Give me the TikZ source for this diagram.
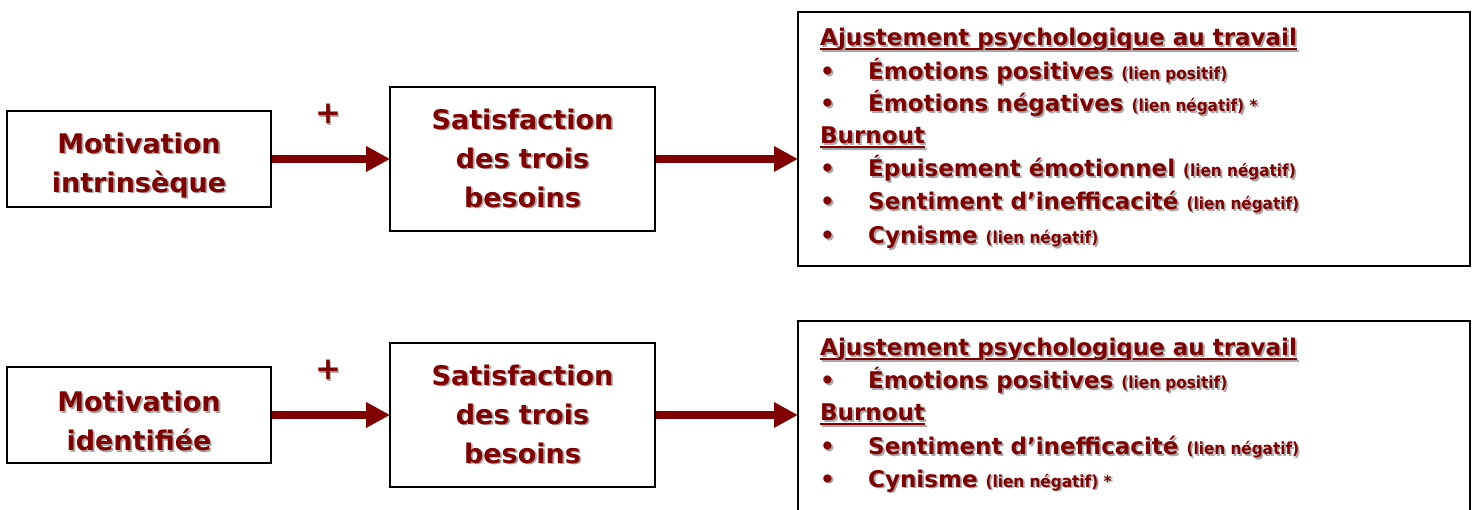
\documentclass[tikz,border=0pt]{standalone}
\usepackage{fontspec}
\setmainfont{DejaVu Sans}
\newfontfamily\smfont{DejaVu Sans}[FakeStretch=0.92]
\usetikzlibrary{arrows.meta}
\definecolor{dred}{HTML}{800000}
\definecolor{shd}{HTML}{A8A8A8}
\newcommand\shd[1]{\leavevmode\rlap{\kern1.8pt\raisebox{-1.8pt}{\textcolor{shd}{#1}}}#1}
\newcommand\ulx[1]{\setbox0\hbox{#1}\leavevmode\rlap{\kern1.8pt\textcolor{shd}{\rule[-6.3pt]{\wd0}{2pt}}}\rlap{\rule[-4.5pt]{\wd0}{2pt}}\shd{#1}}
\newcommand\bul{\makebox[48pt][l]{\shd{•}}}
\tikzset{
  box/.style={draw=black, line width=1.6pt, fill=white, inner sep=0pt},
  lbl/.style={text=dred, font=\bfseries\fontsize{27}{39}\selectfont, align=center},
  arr/.style={draw=dred, line width=8pt, -{Triangle[length=24pt,width=24pt]}, shorten >=-1pt},
  li/.style={anchor=base west, text=dred, inner sep=0pt, font=\bfseries\fontsize{23}{26}\selectfont},
  plus/.style={text=dred, font=\bfseries\fontsize{31}{34}\selectfont},
}
\newcommand\sm[1]{{\smfont\bfseries\fontsize{16.6}{18}\selectfont #1}}
\begin{document}
\begin{tikzpicture}[x=1pt,y=-1pt]
\clip (0,0) rectangle (1476,510);
\fill[white] (0,0) rectangle (1476,510);
% ---- top row
\node[box, minimum width=264pt, minimum height=96pt] (a1) at (139,159) {};
\node[lbl] (a1t) at (139,166) {\shd{Motivation}\\\shd{intrinsèque}};
\node[box, minimum width=265pt, minimum height=144pt] (b1) at (522.5,159) {};
\node[lbl] (b1t) at (522.5,159) {\shd{Satisfaction}\\\shd{des trois}\\\shd{besoins}};
\node[box, line width=2pt, minimum width=672pt, minimum height=254pt] (c1) at (1134,139) {};
\draw[arr] (a1.east) -- (b1.west);
\draw[arr] (b1.east) -- (b1.east -| c1.west);
\node[plus] (p1) at (328,115) {\shd{+}};
\node[li] (t11) at (820,46) {\ulx{Ajustement psychologique au travail}};
\node[li] (t12) at (820,80) {\bul\shd{Émotions positives \sm{(lien positif)}}};
\node[li] (t13) at (820,112) {\bul\shd{Émotions négatives \sm{(lien négatif) *}}};
\node[li] (t14) at (820,144) {\ulx{Burnout}};
\node[li] (t15) at (820,177) {\bul\shd{Épuisement émotionnel \sm{(lien négatif)}}};
\node[li] (t16) at (820,210) {\bul\shd{Sentiment d’inefficacité \sm{(lien négatif)}}};
\node[li] (t17) at (820,244) {\bul\shd{Cynisme \sm{(lien négatif)}}};
% ---- bottom row
\node[box, minimum width=264pt, minimum height=96pt] (a2) at (139,415) {};
\node[lbl] (a2t) at (139,422) {\shd{Motivation}\\\shd{identifiée}};
\node[box, minimum width=265pt, minimum height=144pt] (b2) at (522.5,415) {};
\node[lbl] (b2t) at (522.5,415) {\shd{Satisfaction}\\\shd{des trois}\\\shd{besoins}};
\node[box, line width=2pt, minimum width=672pt, minimum height=220pt] (c2) at (1134,431) {};
\draw[arr] (a2.east) -- (b2.west);
\draw[arr] (b2.east) -- (b2.east -| c2.west);
\node[plus] (p2) at (328,371) {\shd{+}};
\node[li] (t21) at (820,356) {\ulx{Ajustement psychologique au travail}};
\node[li] (t22) at (820,389) {\bul\shd{Émotions positives \sm{(lien positif)}}};
\node[li] (t23) at (820,421) {\ulx{Burnout}};
\node[li] (t24) at (820,455) {\bul\shd{Sentiment d’inefficacité \sm{(lien négatif)}}};
\node[li] (t25) at (820,487) {\bul\shd{Cynisme \sm{(lien négatif) *}}};
\end{tikzpicture}
\end{document}
